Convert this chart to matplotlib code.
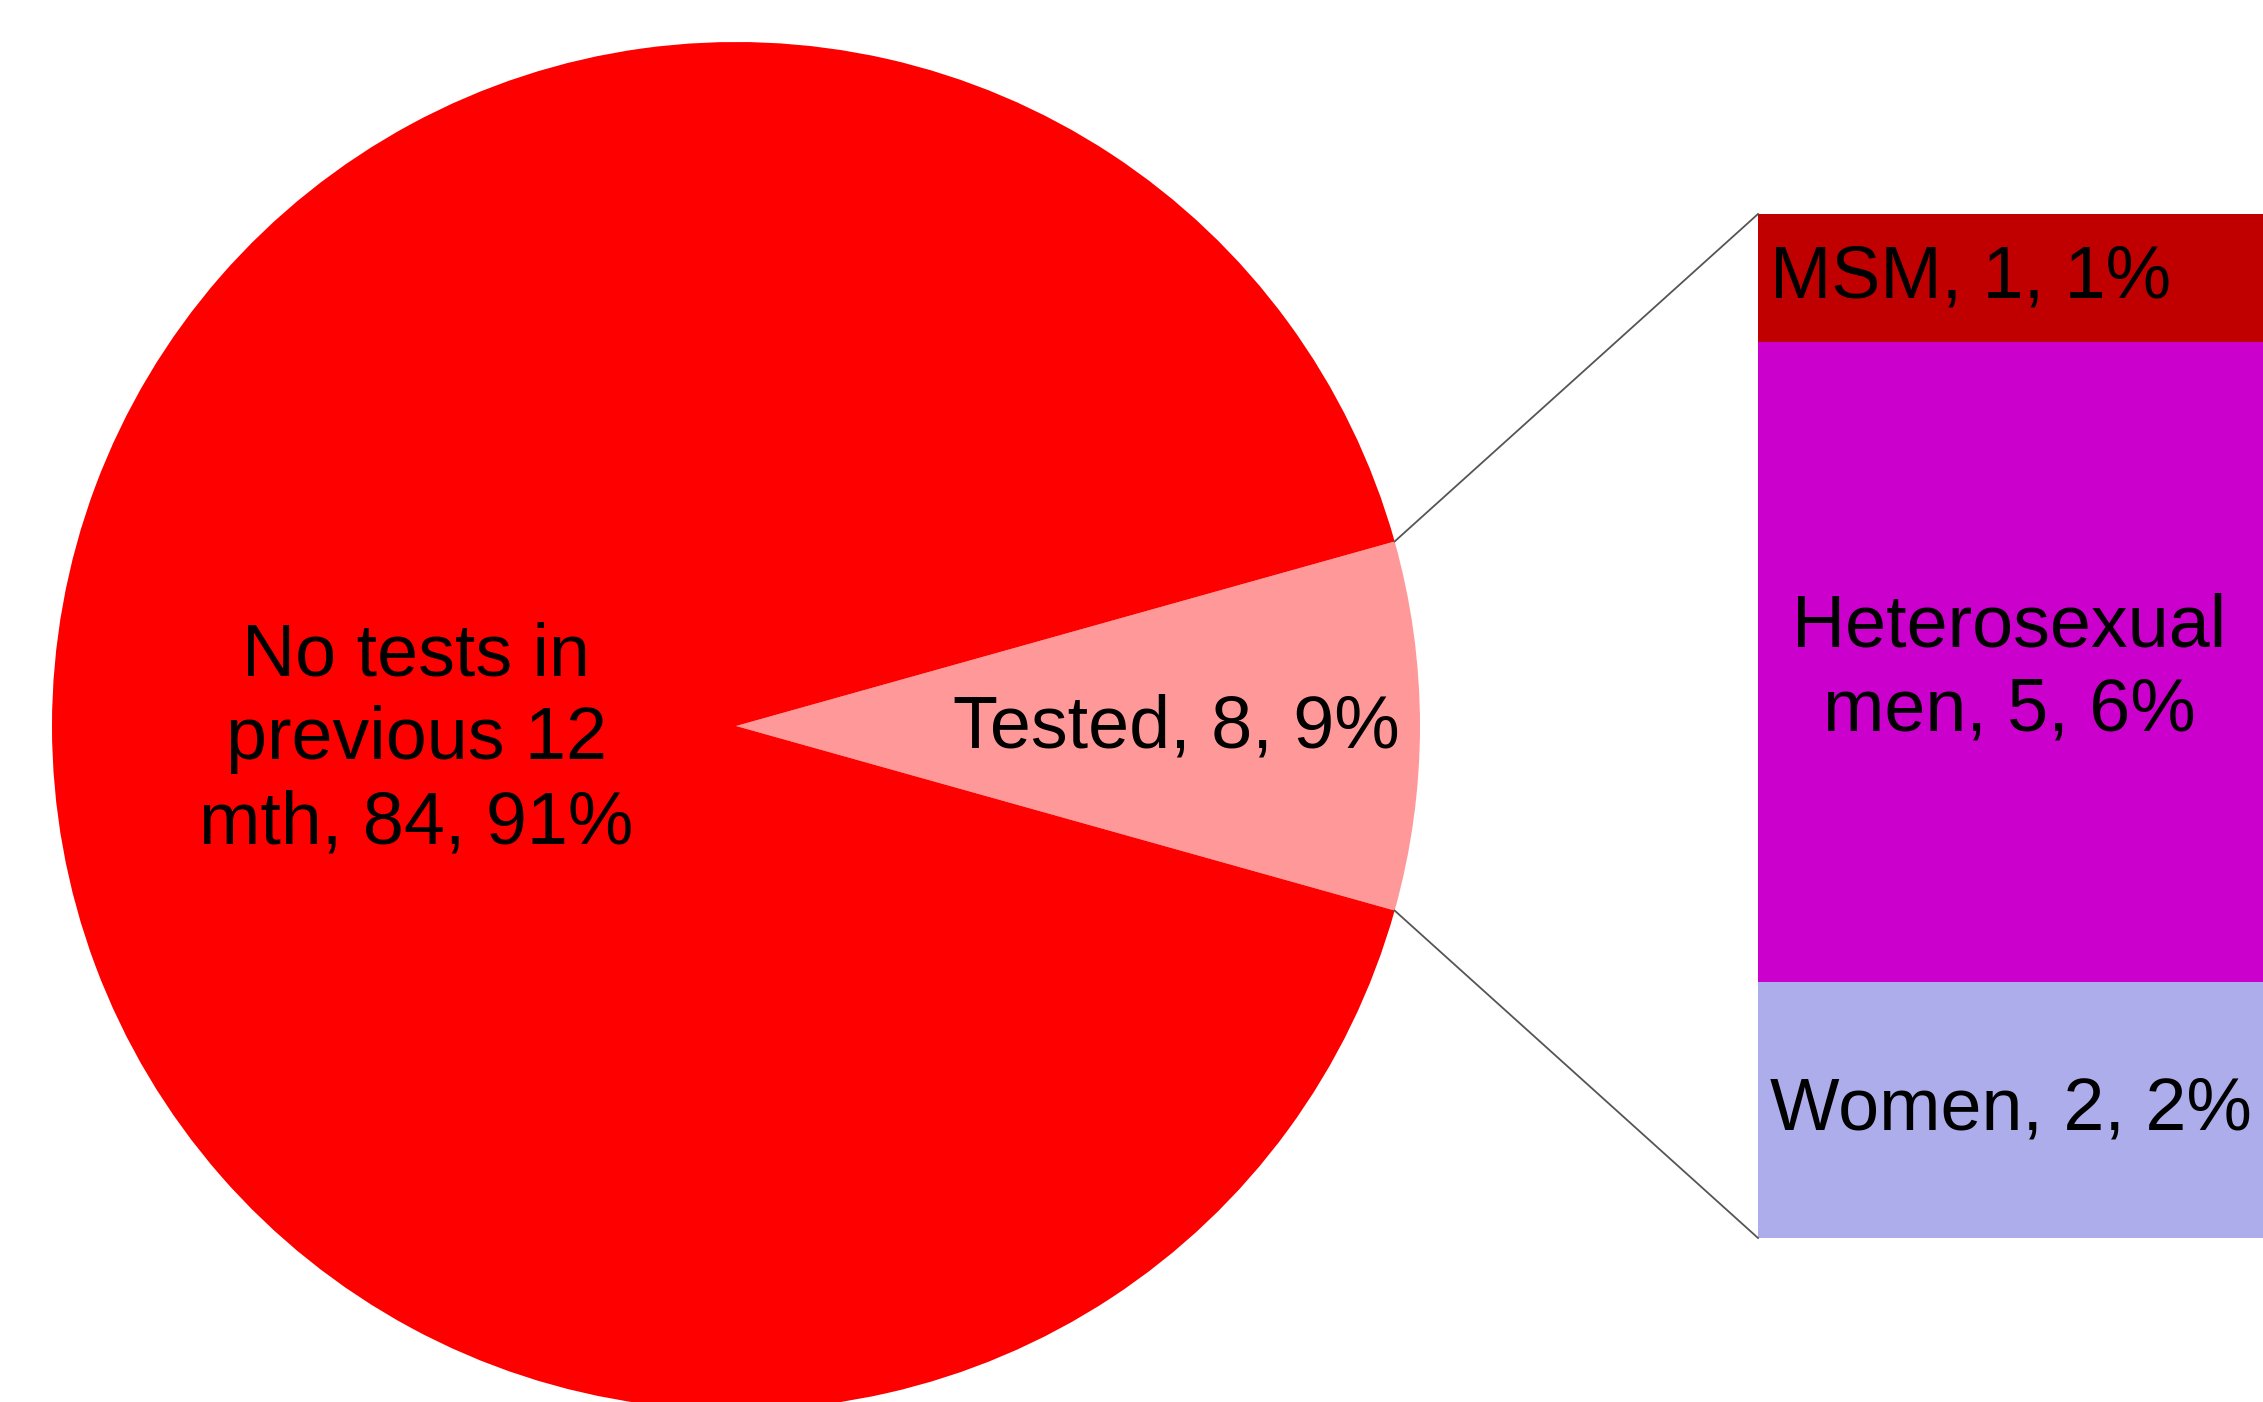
import numpy as np
import matplotlib.pyplot as plt

plt.rcParams["font.family"] = ["Liberation Sans", "DejaVu Sans"]

# pie data
pie_labels = ["Tested, 8, 9%", "No tests in\nprevious 12\nmth, 84, 91%"]
pie_values = [8, 84]
pie_colors = ["#FF9999", "#FF0000"]

# breakdown of the tested slice (top to bottom)
bar_labels = ["MSM, 1, 1%", "Heterosexual\nmen, 5, 6%", "Women, 2, 2%"]
bar_values = [1, 5, 2]
bar_colors = ["#C00000", "#CC00CC", "#ADADEB"]

W, H = 2263, 1402
fig = plt.figure(figsize=(W / 100, H / 100), dpi=100)
ax = fig.add_axes([0, 0, 1, 1])

cx, cy, r = 736, 726, 684
half = 180.0 * pie_values[0] / sum(pie_values)
ax.pie(pie_values, colors=pie_colors, startangle=-half, center=(cx, cy),
       radius=r, wedgeprops=dict(linewidth=0))

# bar of pie
bx, btop, bw = 1758, 214, 520
scale = 1024 / sum(bar_values)
heights = np.array(bar_values) * scale
bottoms = btop + np.concatenate([[0], np.cumsum(heights)[:-1]])
ax.bar(bx, heights, width=bw, bottom=bottoms, color=bar_colors,
       align="edge", linewidth=0)

ax.set_xlim(0, W)
ax.set_ylim(H, 0)
ax.set_aspect("equal")
ax.axis("off")

# connector lines
t = np.deg2rad(half)
ex = cx + r * np.cos(t)
ax.plot([ex, bx], [cy - r * np.sin(t), btop], color="#555555", lw=1.3)
ax.plot([ex, bx], [cy + r * np.sin(t), btop + heights.sum()], color="#555555", lw=1.3)

fs = 53
ax.text(416, 740, pie_labels[1], ha="center", va="center", fontsize=fs, linespacing=1.28)
ax.text(1176, 728, pie_labels[0], ha="center", va="center", fontsize=fs)

mids = bottoms + heights / 2
ax.text(1770, mids[0], bar_labels[0], ha="left", va="center", fontsize=fs)
ax.text(2009, mids[1] + 7, bar_labels[1], ha="center", va="center", fontsize=fs, linespacing=1.27)
ax.text(1770, mids[2], bar_labels[2], ha="left", va="center", fontsize=fs)

fig.savefig("out.png", dpi=100)
